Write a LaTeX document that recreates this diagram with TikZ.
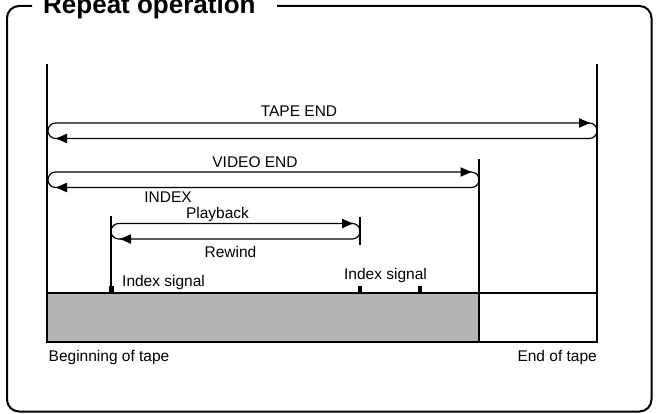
\documentclass[tikz,border=0pt]{standalone}
\usepackage{fontspec}
\setmainfont{Liberation Sans}
\usetikzlibrary{arrows.meta}
\definecolor{tapegray}{RGB}{180,180,180}
\tikzset{
  frameline/.style={line width=2pt, rounded corners=12pt},
  vline/.style={line width=1.8pt},
  loopline/.style={line width=1.2pt, rounded corners=7.6pt},
  tip/.style={fill=black},
  lbl/.style={inner sep=0pt, font=\fontsize{15.5}{18}\selectfont},
  marker/.style={fill=black},
}
\begin{document}
\begin{tikzpicture}[x=1pt,y=-1pt]
\useasboundingbox (0,0) rectangle (656,414);
% frame with gap for title
\draw[frameline] (277,6) -- (651.5,6) -- (651.5,411.5) -- (7,411.5) -- (7,6) -- (32,6);
\node[anchor=base west, inner sep=0pt, font=\fontsize{26}{30}\selectfont\bfseries] (title) at (43,14) {Repeat operation};
% tape
\fill[tapegray] (47,293) rectangle (479,342);
\draw[vline] (47,293) rectangle (597,342);
\coordinate (bt) at (47,64);
\coordinate (et) at (597,64);
\coordinate (bb) at (47,293);
\coordinate (eb) at (597,293);
\draw[vline] (bt) -- (bb);
\draw[vline] (et) -- (eb);
\coordinate (vt) at (479,159);
\coordinate (vb) at (479,342);
\draw[vline] (vt) -- (vb);
% TAPE END loop
\draw[loopline] (48,123) rectangle (597,138.5);
\fill[tip] (590,123) -- ++(-11,-4.8) -- ++(0,9.6) -- cycle;
\fill[tip] (56,138.5) -- ++(11,-4.8) -- ++(0,9.6) -- cycle;
\node[lbl] (tapeend) at (299,111) {TAPE END};
% VIDEO END loop
\draw[loopline] (48,172) rectangle (479,187.5);
\fill[tip] (471.5,172) -- ++(-11,-4.8) -- ++(0,9.6) -- cycle;
\fill[tip] (56,187.5) -- ++(11,-4.8) -- ++(0,9.6) -- cycle;
\node[lbl] (videoend) at (255,162) {VIDEO END};
% INDEX loop
\coordinate (it) at (111,216);
\coordinate (ib) at (111,293);
\draw[vline] (it) -- (ib);
\coordinate (jt) at (360,217);
\coordinate (jb) at (360,245);
\draw[vline] (jt) -- (jb);
\draw[loopline] (111,223.5) rectangle (360,239);
\fill[tip] (353,223.5) -- ++(-11,-4.8) -- ++(0,9.6) -- cycle;
\fill[tip] (120,239) -- ++(11,-4.8) -- ++(0,9.6) -- cycle;
\node[lbl] (index) at (168,197) {INDEX};
\node[lbl] (playback) at (217.5,214) {Playback};
\node[lbl] (rewind) at (230.5,251.5) {Rewind};
% index signals
\fill[marker] (108.5,286) rectangle (113.5,293);
\fill[marker] (358,286) rectangle (362,293);
\fill[marker] (418,286) rectangle (422,293);
\node[lbl, anchor=west] (sig1) at (122,282) {Index signal};
\node[lbl] (sig2) at (385.5,275) {Index signal};
% bottom labels
\node[lbl, anchor=west] (begin) at (48.5,357) {Beginning of tape};
\node[lbl, anchor=east] (end) at (597,357) {End of tape};
\end{tikzpicture}
\end{document}
